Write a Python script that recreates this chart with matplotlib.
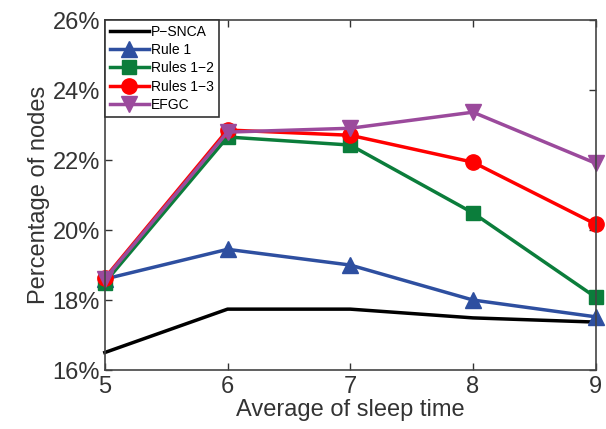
import matplotlib.pyplot as plt
from matplotlib.ticker import FuncFormatter

plt.rcParams["font.family"] = ["Liberation Sans", "DejaVu Sans"]

# data
sleep_time = [5, 6, 7, 8, 9]
p_snca = [16.5, 17.74, 17.74, 17.49, 17.37]
rule1 = [18.6, 19.45, 19.0, 18.0, 17.52]
rules12 = [18.5, 22.66, 22.43, 20.49, 18.08]
rules13 = [18.63, 22.86, 22.71, 21.94, 20.17]
efgc = [18.6, 22.8, 22.91, 23.37, 21.91]

y_ticks = [16, 18, 20, 22, 24, 26]

fig = plt.figure(figsize=(6.06, 4.29), dpi=100)
ax = fig.add_axes([0.173, 0.1375, 0.81, 0.8155])

kw = dict(lw=2.5, clip_on=False)
ax.plot(sleep_time, p_snca, color="black", label="P\u2212SNCA", **kw)
ax.plot(sleep_time, rule1, color="#2E4FA0", marker="^", ms=12, label="Rule 1", **kw)
ax.plot(sleep_time, rules12, color="#0B7D3B", marker="s", ms=10, label="Rules 1\u22122", **kw)
ax.plot(sleep_time, rules13, color="#FF0000", marker="o", ms=11, label="Rules 1\u22123", **kw)
ax.plot(sleep_time, efgc, color="#9B4A9C", marker="v", ms=12, label="EFGC", **kw)

ax.set_xlim(5, 9)
ax.set_ylim(16, 26)
ax.set_xticks(sleep_time)
ax.set_yticks(y_ticks)
ax.yaxis.set_major_formatter(FuncFormatter(lambda v, p: f"{v:.0f}%"))
ax.tick_params(direction="in", top=True, right=True, labelsize=17, length=5,
               colors="#333333", width=1)
ax.tick_params(axis="x", pad=4)
for s in ax.spines.values():
    s.set_color("#444444")
    s.set_linewidth(1.2)

ax.set_xlabel("Average of sleep time", fontsize=17, color="#333333", labelpad=1)
ax.set_ylabel("Percentage of nodes", fontsize=17, color="#333333", labelpad=2)

leg = ax.legend(loc="upper left", fontsize=10, handlelength=2.8, handletextpad=0.2,
                borderaxespad=0, borderpad=0.35, labelspacing=0.3, fancybox=False,
                framealpha=1, edgecolor="#333333")
leg.get_frame().set_linewidth(1.2)

fig.savefig("out.png", dpi=100)
